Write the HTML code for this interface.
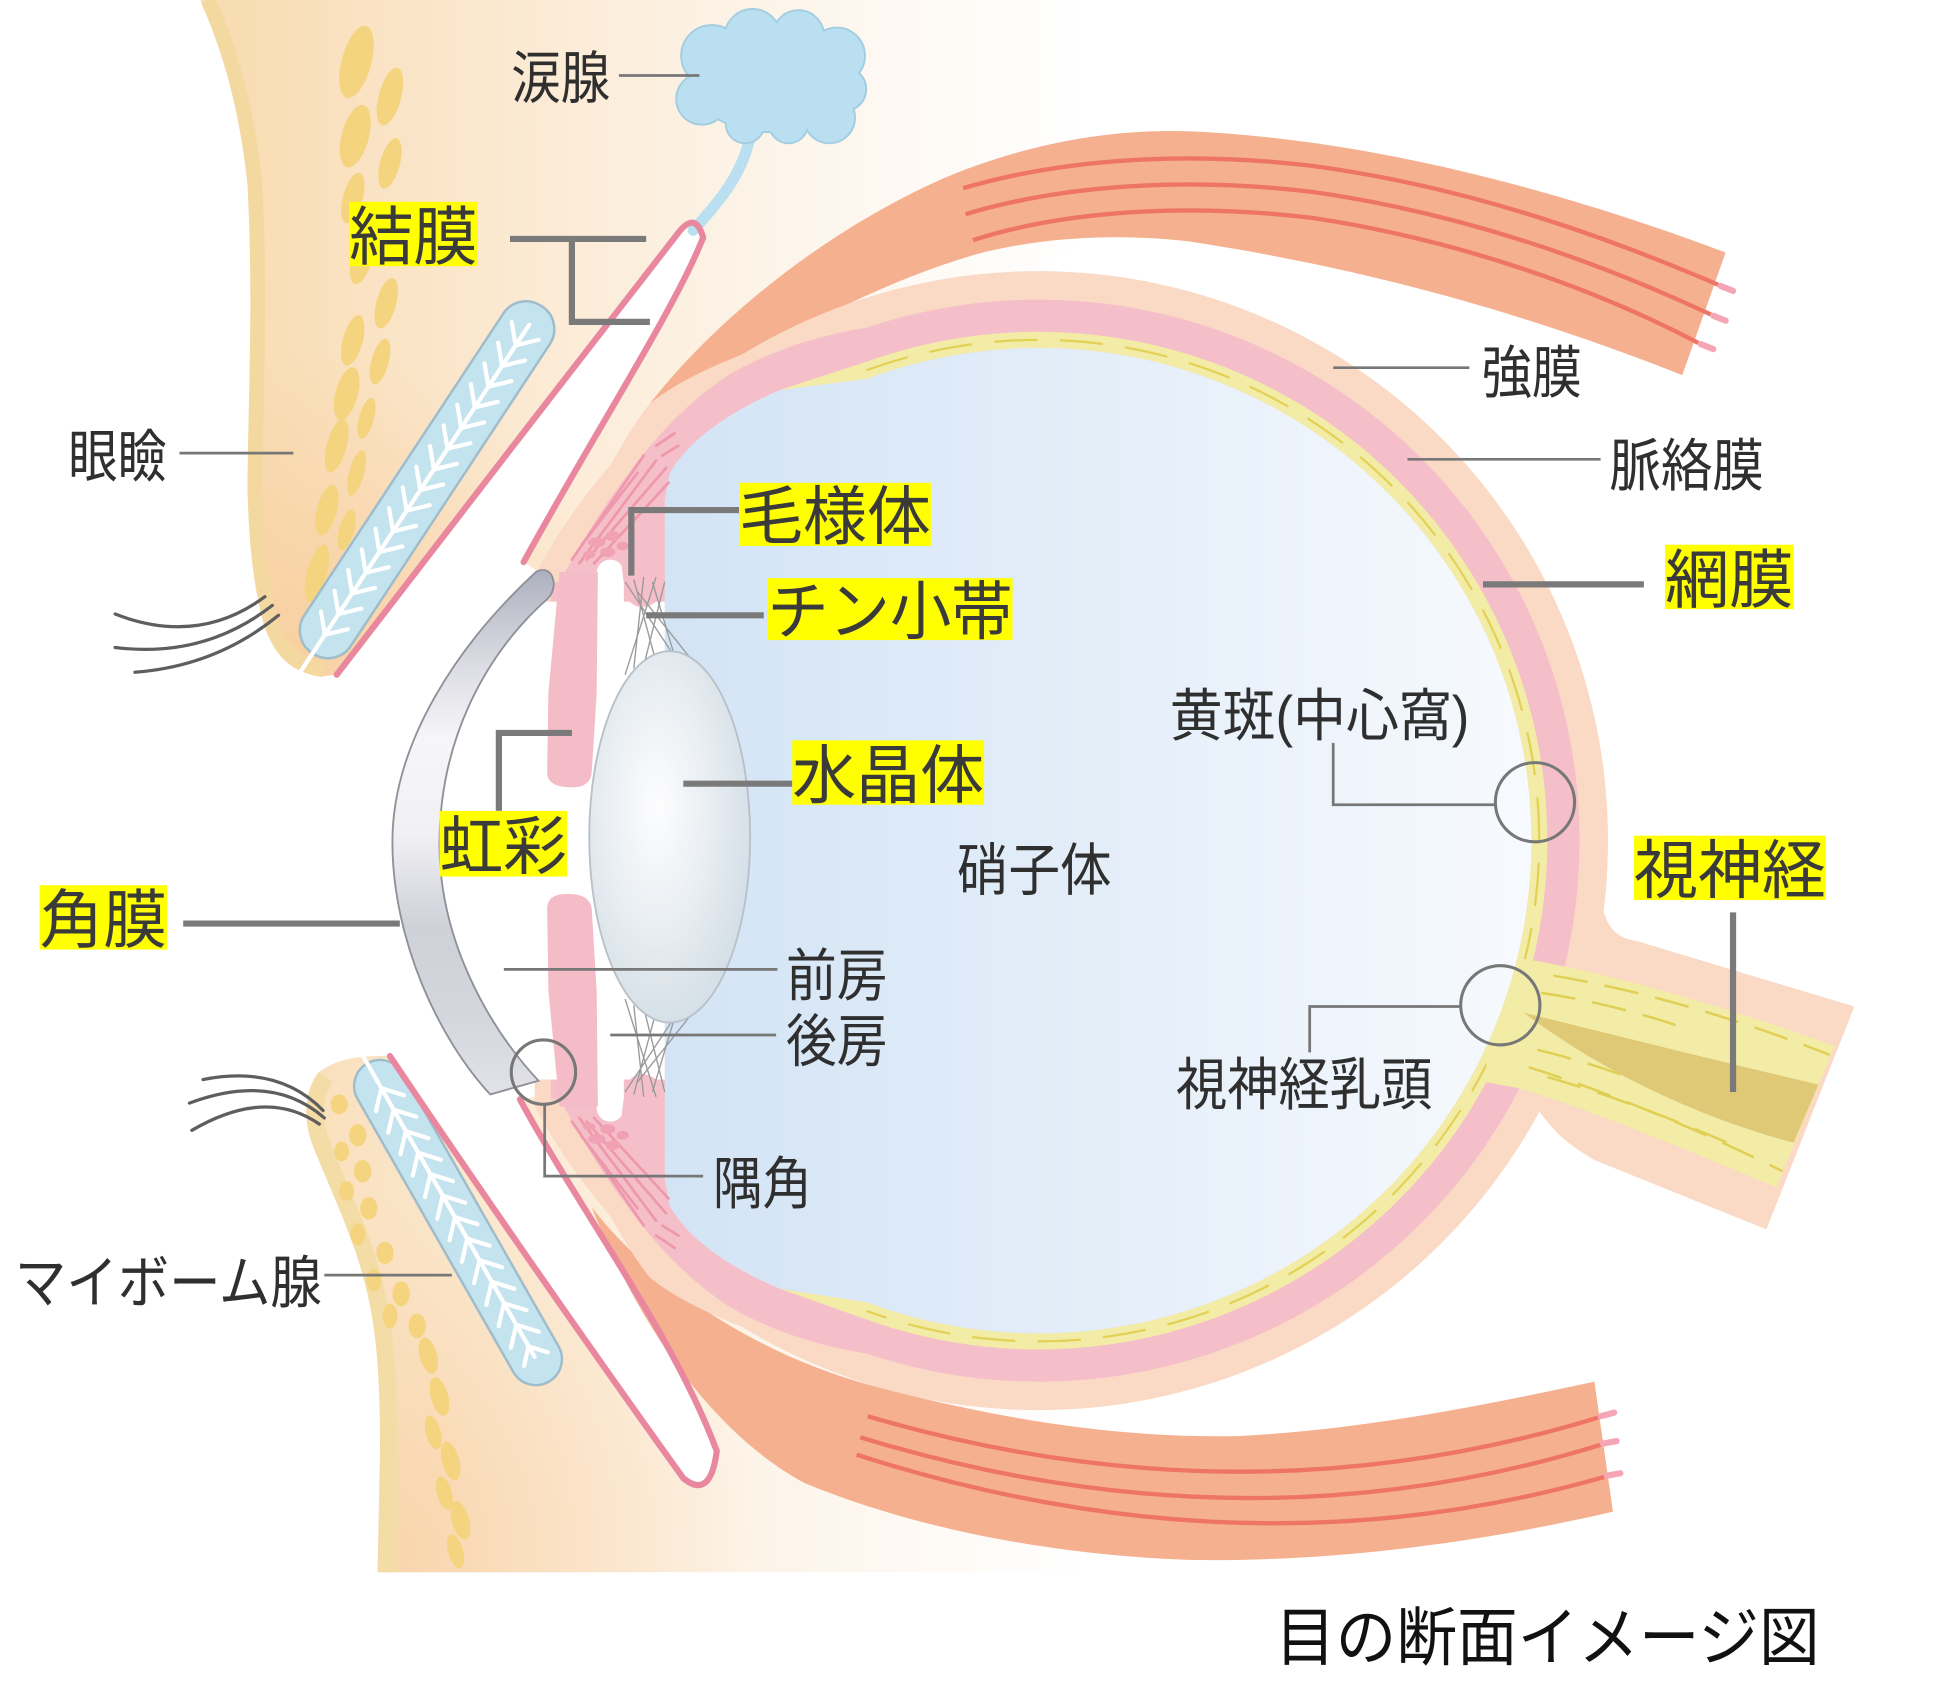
<!DOCTYPE html>
<html><head><meta charset="utf-8">
<style>
html,body{margin:0;padding:0;background:#fff;}
svg{display:block;}
text{font-family:"Liberation Sans","Noto Sans CJK JP",sans-serif;}
</style></head>
<body>
<svg width="1941" height="1706" viewBox="0 0 1568 1378" preserveAspectRatio="none" xmlns="http://www.w3.org/2000/svg">
<defs>
<linearGradient id="cream" gradientUnits="userSpaceOnUse" x1="160" y1="0" x2="880" y2="0">
<stop offset="0" stop-color="#f8dbae"/><stop offset="0.2" stop-color="#fae3c4"/><stop offset="0.45" stop-color="#fcedda"/><stop offset="0.7" stop-color="#fdf6ee"/><stop offset="1" stop-color="#ffffff"/>
</linearGradient>
<radialGradient id="lidU" gradientUnits="userSpaceOnUse" cx="250" cy="520" r="240">
<stop offset="0" stop-color="#f7c48e" stop-opacity="0.55"/><stop offset="1" stop-color="#f7c48e" stop-opacity="0"/>
</radialGradient>
<radialGradient id="lidL" gradientUnits="userSpaceOnUse" cx="330" cy="1250" r="280">
<stop offset="0" stop-color="#f7c48e" stop-opacity="0.45"/><stop offset="1" stop-color="#f7c48e" stop-opacity="0"/>
</radialGradient>
<linearGradient id="vit" gradientUnits="userSpaceOnUse" x1="540" y1="0" x2="1240" y2="0">
<stop offset="0" stop-color="#d3e4f5"/><stop offset="0.5" stop-color="#e4eef9"/><stop offset="1" stop-color="#f7fafe"/>
</linearGradient>
<radialGradient id="lensG" cx="0.42" cy="0.42" r="0.62">
<stop offset="0" stop-color="#fdfdfe"/><stop offset="0.5" stop-color="#eaeff3"/><stop offset="1" stop-color="#d3dee6"/>
</radialGradient>
<linearGradient id="corn" gradientUnits="userSpaceOnUse" x1="0" y1="462" x2="0" y2="884">
<stop offset="0" stop-color="#aeb1bf"/><stop offset="0.18" stop-color="#dcdde4"/><stop offset="0.32" stop-color="#f6f6f8"/><stop offset="0.5" stop-color="#f1f1f4"/><stop offset="0.68" stop-color="#cfd1d9"/><stop offset="0.85" stop-color="#d4d6de"/><stop offset="1" stop-color="#e2e3e8"/>
</linearGradient>
<clipPath id="front"><rect x="432" y="0" width="1200" height="1400"/></clipPath>
</defs>

<!-- cream regions -->
<path d="M162,0 L1000,0 L1000,120 L700,300 L520,420 L460,480 L425,455 L272,545 L262,546 C238,545 222,532 214,505 C206,470 202,440 200,397 C200,330 206,250 200,150 C195,90 180,40 162,0 Z" fill="url(#cream)"/>
<path d="M162,0 L1000,0 L1000,120 L700,300 L520,420 L460,480 L425,455 L272,545 L262,546 C238,545 222,532 214,505 C206,470 202,440 200,397 C200,330 206,250 200,150 C195,90 180,40 162,0 Z" fill="url(#lidU)"/>
<path d="M258,866 C270,856 290,852 315,853 L420,888 L470,880 L540,960 L700,1080 L1000,1200 L1000,1270 L305,1270 L307,1172 C308,1110 305,1075 298,1045 C288,1000 268,960 254,925 C246,900 246,880 258,866 Z" fill="url(#cream)"/>
<path d="M258,866 C270,856 290,852 315,853 L420,888 L470,880 L540,960 L700,1080 L1000,1200 L1000,1270 L305,1270 L307,1172 C308,1110 305,1075 298,1045 C288,1000 268,960 254,925 C246,900 246,880 258,866 Z" fill="url(#lidL)"/>
<!-- skin bands -->
<path d="M168,0 C186,40 200,90 206,150 C211,250 206,330 206,397 C207,440 211,475 219,503 C227,528 243,539 262,541" fill="none" stroke="#f3d9a0" stroke-width="12"/>
<path d="M263,870 C252,885 252,905 260,925 C274,960 294,1000 304,1045 C312,1080 314,1120 314,1172 L314,1270" fill="none" stroke="#f4dca6" stroke-width="14"/>

<!-- sacs -->
<path d="M272,545 C350,445 460,300 548,188 Q562,170 568,192 C545,250 480,350 423,454 L440,470 L300,562 Z" fill="#fff"/>
<path d="M315,853 C380,950 470,1080 552,1194 Q574,1212 579,1172 C545,1080 470,980 420,888 L380,835 L300,845 Z" fill="#fff"/>

<!-- blobs upper -->
<g fill="#f4d47e">
<ellipse cx="288" cy="50" rx="12" ry="30" transform="rotate(15 288 50)"/>
<ellipse cx="315" cy="78" rx="9" ry="24" transform="rotate(15 315 78)"/>
<ellipse cx="287" cy="110" rx="11" ry="26" transform="rotate(15 287 110)"/>
<ellipse cx="315" cy="132" rx="8" ry="21" transform="rotate(15 315 132)"/>
<ellipse cx="285" cy="160" rx="8" ry="21" transform="rotate(15 285 160)"/>
<ellipse cx="310" cy="185" rx="8" ry="20" transform="rotate(15 310 185)"/>
<ellipse cx="292" cy="210" rx="8" ry="20" transform="rotate(15 292 210)"/>
<ellipse cx="312" cy="245" rx="8" ry="21" transform="rotate(15 312 245)"/>
<ellipse cx="285" cy="275" rx="8" ry="21" transform="rotate(15 285 275)"/>
<ellipse cx="307" cy="292" rx="7" ry="19" transform="rotate(15 307 292)"/>
<ellipse cx="280" cy="318" rx="9" ry="22" transform="rotate(15 280 318)"/>
<ellipse cx="296" cy="338" rx="6" ry="17" transform="rotate(15 296 338)"/>
<ellipse cx="272" cy="360" rx="8" ry="22" transform="rotate(15 272 360)"/>
<ellipse cx="288" cy="382" rx="6" ry="19" transform="rotate(15 288 382)"/>
<ellipse cx="264" cy="412" rx="8" ry="21" transform="rotate(15 264 412)"/>
<ellipse cx="280" cy="428" rx="6" ry="17" transform="rotate(15 280 428)"/>
<ellipse cx="256" cy="463" rx="8" ry="24" transform="rotate(15 256 463)"/>
<ellipse cx="272" cy="472" rx="5" ry="17" transform="rotate(15 272 472)"/>
</g>
<!-- blobs lower -->
<g fill="#f4d47e">
<ellipse cx="274" cy="892" rx="7" ry="8"/>
<ellipse cx="289" cy="917" rx="7" ry="9"/>
<ellipse cx="276" cy="930" rx="6" ry="8"/>
<ellipse cx="293" cy="946" rx="7" ry="9"/>
<ellipse cx="280" cy="962" rx="6" ry="8"/>
<ellipse cx="298" cy="976" rx="7" ry="9"/>
<ellipse cx="289" cy="997" rx="6" ry="9"/>
<ellipse cx="311" cy="1012" rx="7" ry="9"/>
<ellipse cx="302" cy="1034" rx="6" ry="9"/>
<ellipse cx="324" cy="1045" rx="7" ry="10"/>
<ellipse cx="315" cy="1063" rx="6" ry="10"/>
<ellipse cx="337" cy="1071" rx="7" ry="10"/>
<ellipse cx="346" cy="1095" rx="7" ry="15" transform="rotate(-15 346 1095)"/>
<ellipse cx="355" cy="1128" rx="7" ry="16" transform="rotate(-15 355 1128)"/>
<ellipse cx="350" cy="1157" rx="6" ry="14" transform="rotate(-15 350 1157)"/>
<ellipse cx="364" cy="1180" rx="7" ry="16" transform="rotate(-15 364 1180)"/>
<ellipse cx="359" cy="1206" rx="6" ry="14" transform="rotate(-15 359 1206)"/>
<ellipse cx="372" cy="1228" rx="7" ry="16" transform="rotate(-15 372 1228)"/>
<ellipse cx="368" cy="1253" rx="6" ry="14" transform="rotate(-15 368 1253)"/>
</g>

<!-- glands -->
<g transform="translate(345,387.5) rotate(-56.6)">
<rect x="-168" y="-22.5" width="336" height="45" rx="22" fill="#c3e3ee" stroke="#9fbccb" stroke-width="2"/>
<path d="M-188,0 L150,0 M-150,0l14,-13M-150,0l14,13M-130,0l14,-13M-130,0l14,13M-110,0l14,-13M-110,0l14,13M-90,0l14,-13M-90,0l14,13M-70,0l14,-13M-70,0l14,13M-50,0l14,-13M-50,0l14,13M-30,0l14,-13M-30,0l14,13M-10,0l14,-13M-10,0l14,13M10,0l14,-13M10,0l14,13M30,0l14,-13M30,0l14,13M50,0l14,-13M50,0l14,13M70,0l14,-13M70,0l14,13M90,0l14,-13M90,0l14,13M110,0l14,-13M110,0l14,13M130,0l14,-13M130,0l14,13" stroke="#fff" stroke-width="3.4" stroke-linecap="round" fill="none"/>
</g>
<g transform="translate(370,987.5) rotate(60.3)">
<rect x="-148" y="-21" width="296" height="42" rx="21" fill="#c3e3ee" stroke="#9fbccb" stroke-width="2"/>
<path d="M-160,0 L125,0 M-125,0l14,-13M-125,0l14,13M-105,0l14,-13M-105,0l14,13M-85,0l14,-13M-85,0l14,13M-65,0l14,-13M-65,0l14,13M-45,0l14,-13M-45,0l14,13M-25,0l14,-13M-25,0l14,13M-5,0l14,-13M-5,0l14,13M15,0l14,-13M15,0l14,13M35,0l14,-13M35,0l14,13M55,0l14,-13M55,0l14,13M75,0l14,-13M75,0l14,13M95,0l14,-13M95,0l14,13M115,0l12,-11M115,0l12,11" stroke="#fff" stroke-width="3.4" stroke-linecap="round" fill="none"/>
</g>

<!-- lashes -->
<g fill="none" stroke="#5e5e5e" stroke-width="2.6" stroke-linecap="round">
<path d="M93,496 Q160,522 214,482"/>
<path d="M93,523 Q165,532 220,489"/>
<path d="M109,543 Q175,538 225,497"/>
<path d="M164,872 Q225,860 261,897"/>
<path d="M153,891 Q220,866 262,903"/>
<path d="M155,913 Q215,878 258,908"/>
</g>

<!-- lacrimal gland -->
<path d="M606,110 C600,140 582,162 560,186" fill="none" stroke="#b9dff0" stroke-width="9" stroke-linecap="round"/>
<g fill="#b9dff0" stroke="#a3cde0" stroke-width="3">
<ellipse cx="622" cy="66" rx="62" ry="40"/>
<circle cx="575" cy="45" r="24"/><circle cx="608" cy="30" r="22"/><circle cx="645" cy="29" r="20"/><circle cx="676" cy="45" r="22"/><circle cx="682" cy="72" r="17"/><circle cx="670" cy="95" r="20"/><circle cx="637" cy="100" r="15"/><circle cx="602" cy="100" r="15"/><circle cx="567" cy="80" r="20"/>
</g>
<g fill="#b9dff0">
<ellipse cx="622" cy="66" rx="62" ry="40"/>
<circle cx="575" cy="45" r="24"/><circle cx="608" cy="30" r="22"/><circle cx="645" cy="29" r="20"/><circle cx="676" cy="45" r="22"/><circle cx="682" cy="72" r="17"/><circle cx="670" cy="95" r="20"/><circle cx="637" cy="100" r="15"/><circle cx="602" cy="100" r="15"/><circle cx="567" cy="80" r="20"/>
</g>

<!-- muscles -->
<path d="M525,326 C575,262 660,190 760,145 C830,115 900,104 960,106 C1100,112 1250,150 1394,204 L1359,303 C1230,252 1100,216 960,195 C900,188 840,192 790,205 C720,225 640,265 600,295 C570,312 545,322 525,326 Z" fill="#f5b08f"/>
<g fill="none" stroke="#ee7563" stroke-width="3.5">
<path d="M778,152 C860,128 960,122 1060,134 C1180,150 1290,188 1388,230"/>
<path d="M780,173 C860,149 960,143 1060,155 C1180,172 1290,211 1382,254"/>
<path d="M786,194 C860,170 960,164 1060,176 C1180,194 1290,234 1372,277"/>
</g>
<g stroke="#f5a5b5" stroke-width="5" stroke-linecap="round">
<path d="M1390,231 L1400,235"/><path d="M1384,255 L1394,259"/><path d="M1374,278 L1384,282"/>
</g>
<path d="M478,975 C520,1030 600,1090 700,1118 C800,1145 900,1162 1000,1160 C1100,1155 1200,1135 1288,1116 L1303,1221 C1200,1245 1080,1262 960,1260 C850,1256 740,1235 650,1198 C580,1160 520,1080 478,975 Z" fill="#f5b08f"/>
<g fill="none" stroke="#ee7563" stroke-width="3.5">
<path d="M701,1144 Q1004,1233 1291,1145"/>
<path d="M695,1161 Q1006,1256 1293,1167"/>
<path d="M692,1175 Q1006,1276 1296,1193"/>
</g>
<g stroke="#f5a5b5" stroke-width="5" stroke-linecap="round">
<path d="M1293,1144 L1304,1141"/><path d="M1295,1166 L1306,1164"/><path d="M1298,1192 L1309,1190"/>
</g>

<!-- optic nerve sheath -->
<path d="M1280,700 L1296,738 Q1302,758 1322,760 L1498,813 L1427,993 L1288,937 Q1262,922 1250,906 L1180,820 Z" fill="#fad9c5"/>

<!-- sclera -->
<circle cx="839" cy="679" r="460" fill="#fad9c5" clip-path="url(#front)"/>
<path d="M600,286 C570,298 545,310 525,326 C505,350 482,398 465,425 C455,443 446,456 438,466 L452,480 L505,386 L560,320 Z" fill="#fad9c5"/>
<path d="M600,1072 C570,1060 545,1048 525,1032 C505,1008 482,960 465,933 C455,915 446,902 438,892 L452,878 L505,972 L560,1038 Z" fill="#fad9c5"/>

<!-- choroid / ciliary -->
<path d="M700,264.7 A437 437 0 1 1 700,1093.3 C665,1088 625,1076 590,1056 C555,1033 530,1006 505,972 C485,946 468,916 452,888 L445,888 L445,470 L452,470 C468,442 485,412 505,386 C530,352 555,325 590,302 C625,282 665,270 700,264.7 Z" fill="#f5bfca"/>

<!-- retina -->
<path d="M630,315 L700,292.2 A411 411 0 1 1 700,1065.8 L630,1041 L700,1051.9 A398 398 0 1 0 700,306.1 Z" fill="#f3eca6"/>
<path d="M700,299.1 A404.5 404.5 0 1 1 700,1058.9" fill="none" stroke="#e2d155" stroke-width="1.8" stroke-dasharray="35 18"/>

<!-- optic nerve -->
<path d="M1205,770 L1251,778 C1320,792 1400,815 1482,845 L1435,959 C1360,928 1290,898 1227,879 L1200,874 Z" fill="#f3eca6"/>
<g fill="none" stroke="#e0cf55" stroke-width="2" stroke-dasharray="28 14">
<path d="M1255,788 Q1360,806 1478,852"/>
<path d="M1245,802 Q1300,810 1360,830"/>
<path d="M1235,862 Q1330,892 1440,946"/>
<path d="M1242,848 Q1300,862 1350,884"/>
<path d="M1250,870 Q1320,890 1400,925"/>
</g>
<path d="M1231,818 C1300,835 1400,860 1469,876 L1449,923 C1380,905 1300,870 1231,818 Z" fill="#dfc977"/>

<!-- chambers -->
<rect x="400" y="486" width="140" height="386" fill="#fff"/>
<rect x="482" y="452" width="22" height="50" rx="11" fill="#fff"/>
<rect x="482" y="856" width="22" height="50" rx="11" fill="#fff"/>

<!-- vitreous -->
<path d="M700,306.1 A398 398 0 1 1 700,1051.9 L630,1041 C590,1024 557,1002 541,974 L537,952 L537,404 L541,382 C557,355 590,332 630,315 Z" fill="url(#vit)"/>

<!-- iris -->
<path d="M452,462 L483,462 L482,560 L478,624 Q477,636 462,636 Q442,636 442,624 L443,560 Z" fill="#f4bcc7"/>
<path d="M442,734 Q442,722 458,722 Q477,722 478,734 L482,800 L483,894 L452,894 L443,800 Z" fill="#f4bcc7"/>

<!-- ciliary processes -->
<path d="M501,430 L537,430 L537,478 C530,490 516,495 508,485 C503,475 501,450 501,430 Z" fill="#f5bfca"/>
<path d="M501,928 L537,928 L537,880 C530,868 516,863 508,873 C503,883 501,908 501,928 Z" fill="#f5bfca"/>
<g stroke="#ee98ab" stroke-width="2.2" fill="none" stroke-linecap="round">
<path d="M462,452 L520,368"/><path d="M468,455 L530,372"/><path d="M474,452 L538,378"/><path d="M480,455 L540,390"/><path d="M470,440 L515,382"/><path d="M530,360 L545,350"/><path d="M535,368 L548,360"/>
<path d="M462,906 L520,990"/><path d="M468,903 L530,986"/><path d="M474,906 L538,980"/><path d="M480,903 L540,968"/><path d="M470,918 L515,976"/><path d="M530,998 L545,1008"/><path d="M535,990 L548,998"/>
</g>
<g fill="#f0a1b3">
<ellipse cx="482" cy="438" rx="7" ry="4"/><ellipse cx="495" cy="433" rx="6" ry="4"/><ellipse cx="491" cy="446" rx="6" ry="4"/><ellipse cx="503" cy="441" rx="5" ry="3.5"/><ellipse cx="476" cy="448" rx="5" ry="3"/>
<ellipse cx="482" cy="920" rx="7" ry="4"/><ellipse cx="495" cy="925" rx="6" ry="4"/><ellipse cx="491" cy="912" rx="6" ry="4"/><ellipse cx="503" cy="917" rx="5" ry="3.5"/><ellipse cx="476" cy="910" rx="5" ry="3"/>
</g>

<!-- zonules -->
<g stroke="#9a9a9a" stroke-width="1.1" fill="none">
<path d="M505,470 L548,535"/><path d="M512,468 L530,535"/><path d="M520,466 L512,540"/><path d="M530,466 L505,545"/><path d="M537,470 L520,538"/><path d="M515,478 L558,532"/><path d="M527,470 L545,530"/>
<path d="M505,882 L548,817"/><path d="M512,884 L530,817"/><path d="M520,886 L512,812"/><path d="M530,886 L505,807"/><path d="M537,882 L520,814"/><path d="M515,874 L558,820"/><path d="M527,882 L545,822"/>
</g>

<!-- lens -->
<ellipse cx="541" cy="676" rx="65" ry="150" fill="url(#lensG)" stroke="#b8c0c8" stroke-width="1.5"/>

<!-- cornea -->
<path d="M433,462 C370,520 317,600 317,680 C317,760 355,840 396,884 L435,873 C395,830 355,760 355,682 C355,600 390,530 443,483 C452,473 446,455 433,462 Z" fill="url(#corn)" stroke="#8f9099" stroke-width="1.5"/>

<!-- conjunctiva -->
<g fill="none" stroke="#e8879e" stroke-width="5" stroke-linecap="round">
<path d="M272,545 C350,445 460,300 548,188 Q562,170 568,192 C545,250 480,350 423,454"/>
<path d="M315,853 C380,950 470,1080 552,1194 Q574,1212 579,1172 C545,1080 470,980 420,888"/>
</g>

<!-- thin leaders -->
<g stroke="#777" stroke-width="2.2" fill="none">
<path d="M500,61 H565"/>
<path d="M145,366 H237"/>
<path d="M1077,297 H1187"/>
<path d="M1137,371 H1293"/>
<path d="M1077,600 V650 H1208"/>
<path d="M407,783 H628"/>
<path d="M493,836 H627"/>
<path d="M1058,850 V813 H1180"/>
<path d="M440,892 V950 H568"/>
<path d="M262,1030 H365"/>
</g>
<g stroke="#777" stroke-width="2.5" fill="none">
<circle cx="1240" cy="648" r="32"/>
<circle cx="1212" cy="812" r="32"/>
<circle cx="439" cy="866" r="26"/>
</g>
<!-- thick leaders -->
<g stroke="#7a7a7a" stroke-width="5" fill="none">
<path d="M412,193 H522 M462,193 V260 H525"/>
<path d="M1198,472 H1328"/>
<path d="M597,412 H510 V465"/>
<path d="M522,497 H617"/>
<path d="M552,633 H640"/>
<path d="M403,655 V592 H462"/>
<path d="M1400,737 V882"/>
<path d="M148,746 H323"/>
</g>

<!-- highlight boxes -->
<g fill="#ffff00">
<rect x="282" y="163" width="104" height="52"/>
<rect x="1345" y="440" width="104" height="52"/>
<rect x="597" y="390" width="155" height="51"/>
<rect x="620" y="467" width="198" height="50"/>
<rect x="640" y="598" width="155" height="52"/>
<rect x="355" y="655" width="103" height="53"/>
<rect x="1320" y="675" width="155" height="52"/>
<rect x="32" y="715" width="103" height="52"/>
</g>
<g fill="#3a3a3a" font-size="52">
<text x="282" y="209.5" textLength="104" lengthAdjust="spacingAndGlyphs">結膜</text>
<text x="1345" y="486.5" textLength="104" lengthAdjust="spacingAndGlyphs">網膜</text>
<text x="597" y="435.5" textLength="155" lengthAdjust="spacingAndGlyphs">毛様体</text>
<text x="620" y="512" textLength="198" lengthAdjust="spacingAndGlyphs">チン小帯</text>
<text x="640" y="644.5" textLength="155" lengthAdjust="spacingAndGlyphs">水晶体</text>
<text x="355" y="702" textLength="103" lengthAdjust="spacingAndGlyphs">虹彩</text>
<text x="1320" y="721.5" textLength="155" lengthAdjust="spacingAndGlyphs">視神経</text>
<text x="32" y="761.5" textLength="103" lengthAdjust="spacingAndGlyphs">角膜</text>
</g>
<g fill="#2f2f2f" font-size="46">
<text x="413" y="79" textLength="80" lengthAdjust="spacingAndGlyphs">涙腺</text>
<text x="55" y="385" textLength="80" lengthAdjust="spacingAndGlyphs">眼瞼</text>
<text x="1197" y="317" textLength="81" lengthAdjust="spacingAndGlyphs">強膜</text>
<text x="1300" y="392" textLength="125" lengthAdjust="spacingAndGlyphs">脈絡膜</text>
<text x="945" y="594" textLength="242" lengthAdjust="spacingAndGlyphs">黄斑(中心窩)</text>
<text x="773" y="719" textLength="125" lengthAdjust="spacingAndGlyphs">硝子体</text>
<text x="635" y="804" textLength="82" lengthAdjust="spacingAndGlyphs">前房</text>
<text x="635" y="857" textLength="82" lengthAdjust="spacingAndGlyphs">後房</text>
<text x="950" y="892" textLength="207" lengthAdjust="spacingAndGlyphs">視神経乳頭</text>
<text x="576" y="972" textLength="80" lengthAdjust="spacingAndGlyphs">隅角</text>
<text x="12" y="1052" textLength="248" lengthAdjust="spacingAndGlyphs">マイボーム腺</text>
</g>
<text x="1030" y="1341" font-size="52" fill="#111" textLength="440" lengthAdjust="spacingAndGlyphs">目の断面イメージ図</text>
</svg>
</body></html>
